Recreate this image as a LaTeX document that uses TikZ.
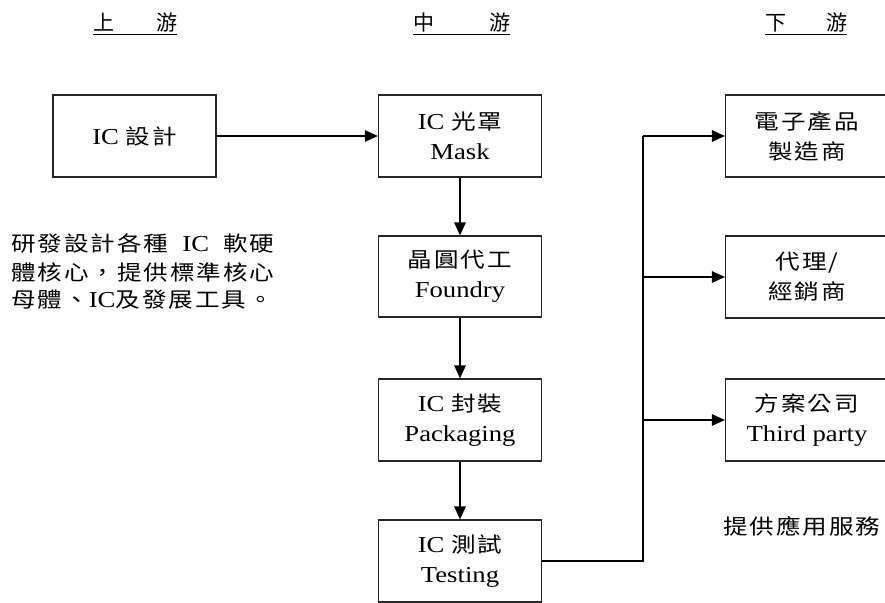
\documentclass[tikz,border=0pt]{standalone}
\usepackage{fontspec}
\usepackage{graphicx}
\usetikzlibrary{arrows.meta}
\setmainfont{Liberation Serif}
\newfontfamily\cjk[LetterSpace=8]{Noto Sans CJK TC}
\newfontfamily\cjkhead{Noto Sans CJK TC}
\newcommand{\zh}[1]{{\fontsize{21}{30}\selectfont\cjk #1}}
\newcommand{\sx}[1]{\scalebox{1.17}[1]{#1}}
\tikzset{
  box/.style={draw=black!85, line width=1.2pt, minimum width=163pt, minimum height=82pt,
    inner sep=0pt, align=center, font=\fontsize{22.8}{30}\selectfont},
  arr/.style={line width=1.4pt, -{Triangle[length=13pt,width=11.5pt]}},
  conn/.style={line width=1.4pt},
  head/.style={inner xsep=0pt, inner ysep=1.5pt, anchor=west, font=\fontsize{21}{25}\selectfont},
  txt/.style={inner sep=0pt, anchor=west, font=\fontsize{22.8}{25}\selectfont}
}
\begin{document}
\begin{tikzpicture}[x=1pt,y=-1pt]
\useasboundingbox (0,0) rectangle (885,602);
\clip (0,0) rectangle (885,602);
% headings
\node[head] (h1) at (93,23) {\makebox[84pt][s]{\cjkhead 上\hfill 游}};
\node[head] (h2) at (413,23) {\makebox[97pt][s]{\cjkhead 中\hfill 游}};
\node[head] (h3) at (765,23) {\makebox[82pt][s]{\cjkhead 下\hfill 游}};
\draw[line width=1.1pt] (h1.south west) -- (h1.south east);
\draw[line width=1.1pt] (h2.south west) -- (h2.south east);
\draw[line width=1.1pt] (h3.south west) -- (h3.south east);
% boxes
\node[box] (design) at (134.5,136) {\sx{IC \zh{設計}}};
\node[box] (mask) at (460,136) {\sx{IC \zh{光罩}}\\\sx{Mask}};
\node[box, minimum height=81pt] (foundry) at (460,276.5) {\sx{\zh{晶圓代工}}\\\sx{Foundry}};
\node[box] (pack) at (460,420) {\sx{IC \zh{封裝}}\\\sx{Packaging}};
\node[box] (test) at (460,561) {\sx{IC \zh{測試}}\\\sx{Testing}};
\node[box] (r1) at (807,136) {\sx{\zh{電子產品}}\\\sx{\zh{製造商}}};
\node[box] (r2) at (807,277) {\sx{\zh{代理/}}\\\sx{\zh{經銷商}}};
\node[box] (r3) at (807,420) {\sx{\zh{方案公司}}\\\sx{Third party}};
% texts
\node[txt] (l1) at (11,243) {\sx{\zh{研發設計各種}\hspace{12pt}IC\hspace{12pt}\zh{軟硬}}};
\node[txt] (l2) at (11,272) {\sx{\zh{體核心，提供標準核心}}};
\node[txt] (l3) at (11,300) {\sx{\zh{母體、}IC\zh{及發展工具。}}};
\node[txt] (svc) at (723,526) {\sx{\zh{提供應用服務}}};
% connectors
\coordinate (bus) at (643,136);
\draw[arr] (design.east) -- (mask.west);
\draw[arr] (mask.south) -- (foundry.north);
\draw[arr] (foundry.south) -- (pack.north);
\draw[arr] (pack.south) -- (test.north);
\draw[conn] (test.east) -| (bus);
\draw[arr] (bus) -- (r1.west);
\draw[arr] (bus |- r2.west) -- (r2.west);
\draw[arr] (bus |- r3.west) -- (r3.west);
\end{tikzpicture}
\end{document}
